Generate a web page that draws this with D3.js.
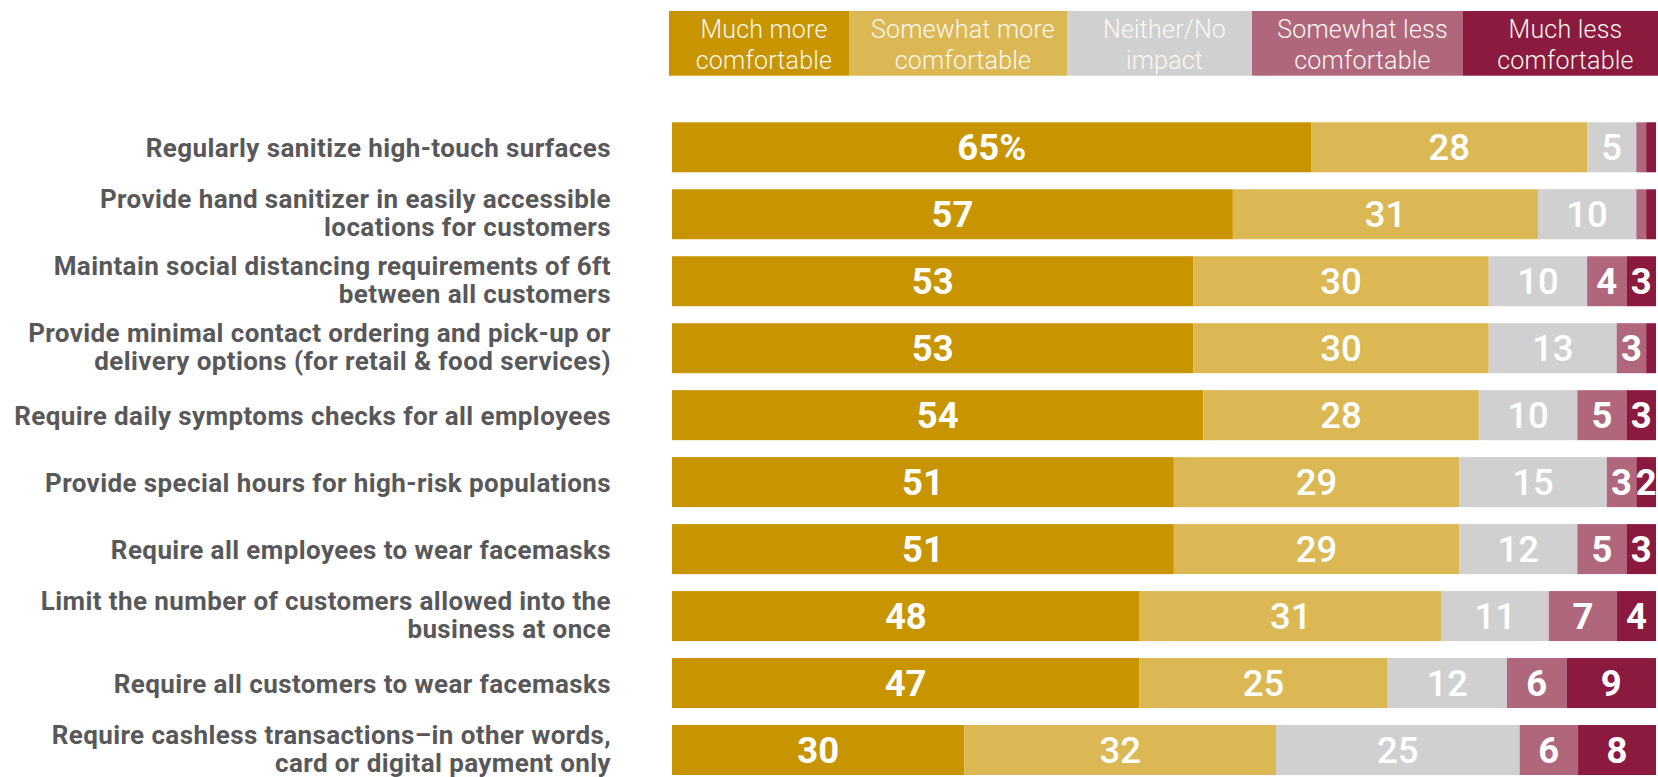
<!DOCTYPE html>
<html>
<head>
<meta charset="utf-8">
<script src="https://cdn.jsdelivr.net/npm/d3@7"></script>
<style>
  html, body { margin: 0; padding: 0; background: #ffffff; }
  svg { display: block; }
</style>
</head>
<body>
<svg id="chart" width="1658" height="777"></svg>
<script>
// Survey items (label lines split with "|")
const categories = [
  "Regularly sanitize high-touch surfaces",
  "Provide hand sanitizer in easily accessible|locations for customers",
  "Maintain social distancing requirements of 6ft|between all customers",
  "Provide minimal contact ordering and pick-up or|delivery options (for retail & food services)",
  "Require daily symptoms checks for all employees",
  "Provide special hours for high-risk populations",
  "Require all employees to wear facemasks",
  "Limit the number of customers allowed into the|business at once",
  "Require all customers to wear facemasks",
  "Require cashless transactions\u2013in other words,|card or digital payment only"
];

// Response shares (%) per item
const muchMore     = [65, 57, 53, 53, 54, 51, 51, 48, 47, 30];
const somewhatMore = [28, 31, 30, 30, 28, 29, 29, 31, 25, 32];
const neither      = [5, 10, 10, 13, 10, 15, 12, 11, 12, 25];
const somewhatLess = [1, 1, 4, 3, 5, 3, 5, 7, 6, 6];
const muchLess     = [1, 1, 3, 1, 3, 2, 3, 4, 9, 8];

const seriesKeys = ["muchMore", "somewhatMore", "neither", "somewhatLess", "muchLess"];
const seriesLabels = [
  "Much more|comfortable",
  "Somewhat more|comfortable",
  "Neither/No|impact",
  "Somewhat less|comfortable",
  "Much less|comfortable"
];

// ---- styling / layout ----
const colors = ["#C89400", "#DBB854", "#D1D0D0", "#B0677C", "#8B1A3E"];
const labelWeights = [700, 500, 500, 700, 700];
const legendEdges = [669, 849, 1067, 1252, 1463, 1658];
const barLeft = 672, barRight = 1656;
const barTop = 122.3, barBottom = 775;

const svg = d3.select("#chart");

const table = categories.map((c, i) => ({
  category: c,
  muchMore: muchMore[i],
  somewhatMore: somewhatMore[i],
  neither: neither[i],
  somewhatLess: somewhatLess[i],
  muchLess: muchLess[i]
}));

const stacked = d3.stack().keys(seriesKeys).offset(d3.stackOffsetExpand)(table);

const x = d3.scaleLinear().domain([0, 1]).range([barLeft, barRight]);
const y = d3.scaleBand()
  .domain(categories)
  .range([barTop, barBottom])
  .paddingInner(0.2534)
  .paddingOuter(0);

// ---- bars ----
const layers = svg.append("g").selectAll("g")
  .data(stacked)
  .join("g")
  .attr("fill", (d, i) => colors[i]);

layers.selectAll("rect")
  .data(d => d)
  .join("rect")
  .attr("x", d => x(d[0]))
  .attr("y", d => y(d.data.category))
  .attr("width", d => x(d[1]) - x(d[0]))
  .attr("height", y.bandwidth());

// ---- value labels ----
const valueLayer = svg.append("g")
  .attr("font-family", "Roboto, 'Noto Sans', sans-serif")
  .attr("font-size", 36.5)
  .attr("fill", "#ffffff")
  .attr("text-anchor", "middle");

stacked.forEach((layer, si) => {
  valueLayer.append("g")
    .attr("font-weight", labelWeights[si])
    .selectAll("text")
    .data(layer.filter(d => d.data[layer.key] >= 2))
    .join("text")
    .attr("x", d => (x(d[0]) + x(d[1])) / 2)
    .attr("y", d => y(d.data.category) + y.bandwidth() / 2)
    .attr("dy", "0.355em")
    .text(d => {
      const v = d.data[layer.key];
      return (si === 0 && d.data.category === categories[0]) ? v + "%" : v;
    });
});

// ---- category labels ----
const catLayer = svg.append("g")
  .attr("font-family", "Roboto, 'Noto Sans', sans-serif")
  .attr("font-weight", 700)
  .attr("font-size", 26)
  .attr("letter-spacing", 0.4)
  .attr("fill", "#58585A")
  .attr("text-anchor", "end");

categories.forEach(c => {
  const lines = c.split("|");
  const cy = y(c) + y.bandwidth() / 2;
  const t = catLayer.append("text").attr("x", 611);
  lines.forEach((line, li) => {
    const base = lines.length === 1 ? cy + 9.5 : cy - 6.5 + li * 28;
    t.append("tspan").attr("x", 611).attr("y", base).text(line);
  });
});

// ---- legend ----
const legend = svg.append("g");
seriesLabels.forEach((lab, i) => {
  const x0 = legendEdges[i], x1 = legendEdges[i + 1];
  legend.append("rect")
    .attr("x", x0).attr("y", 11)
    .attr("width", x1 - x0).attr("height", 64.7)
    .attr("fill", colors[i]);
  const t = legend.append("text")
    .attr("font-family", "Roboto, 'Noto Sans', sans-serif")
    .attr("font-weight", 300)
    .attr("font-size", 25)
    .attr("letter-spacing", 0.2)
    .attr("fill", "#FBF8F2")
    .attr("text-anchor", "middle");
  lab.split("|").forEach((line, li) => {
    t.append("tspan")
      .attr("x", (x0 + x1) / 2 + 5)
      .attr("y", 37.5 + li * 31.5)
      .text(line);
  });
});
</script>
</body>
</html>
